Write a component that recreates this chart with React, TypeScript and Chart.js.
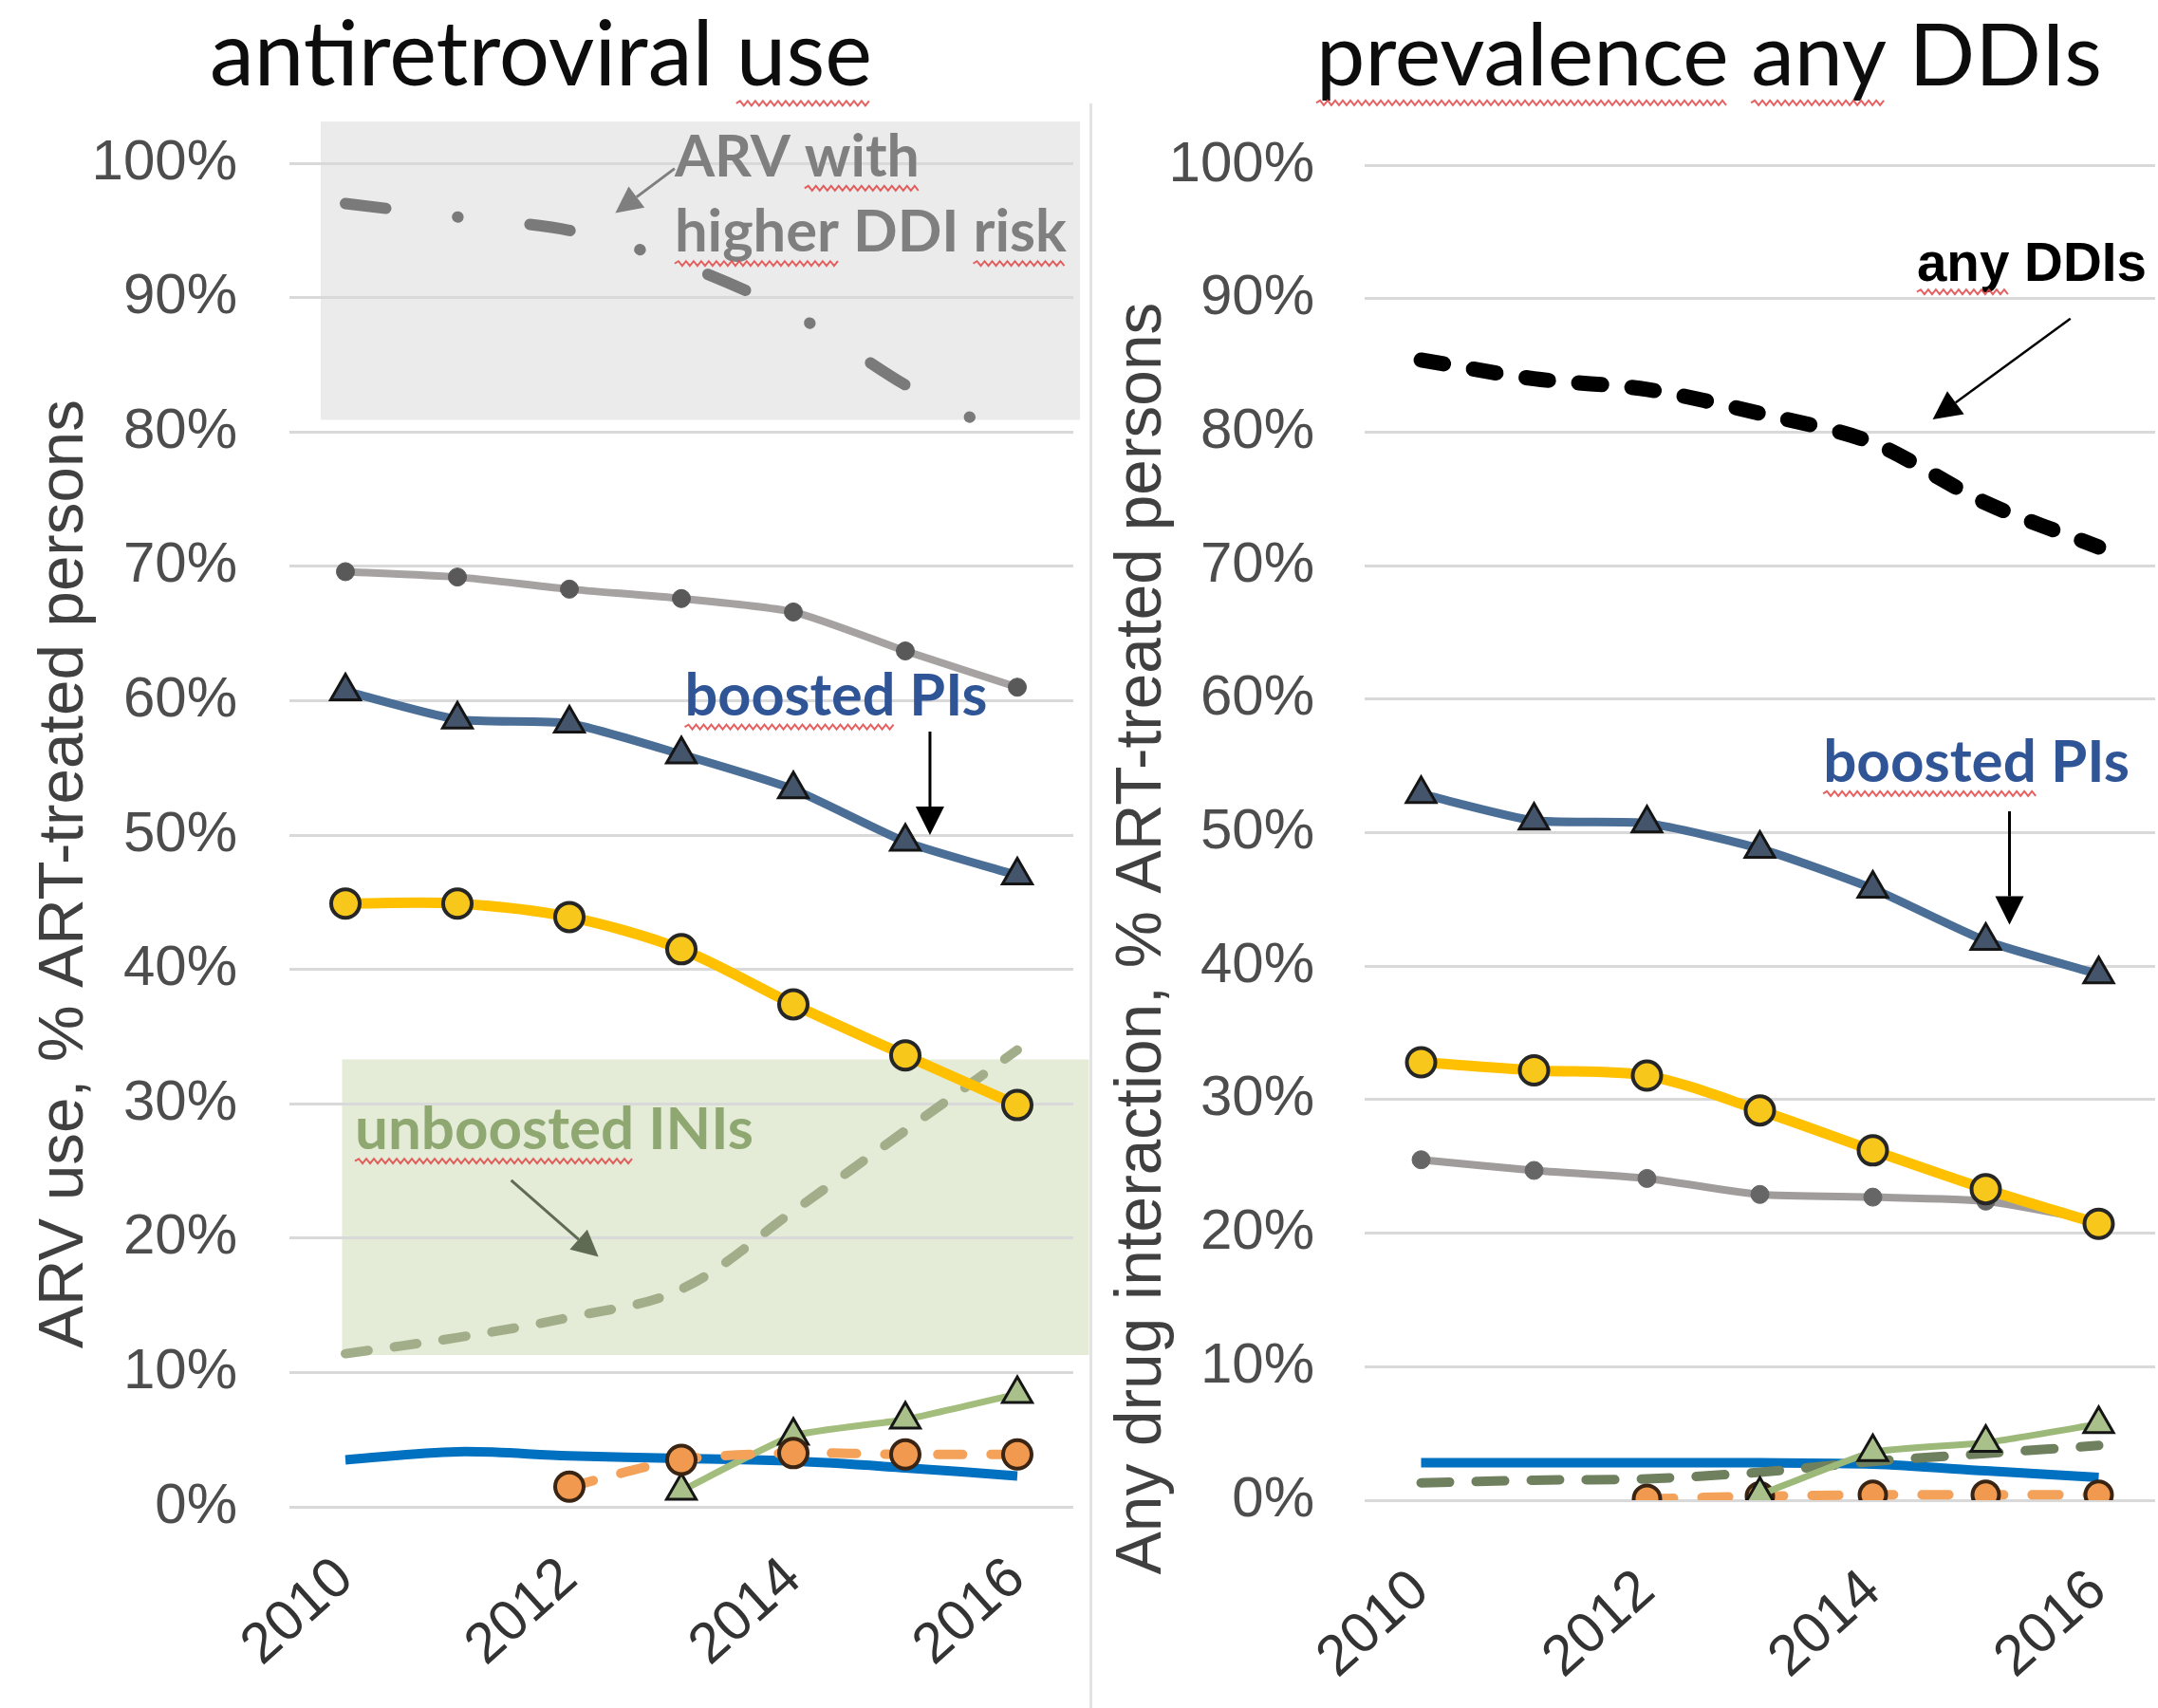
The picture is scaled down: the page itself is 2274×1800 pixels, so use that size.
import React, { useEffect, useRef } from 'react';
import { Chart, registerables } from 'chart.js';

Chart.register(...registerables);

const FONT_ARIAL = "'Liberation Sans', Arial, Helvetica, sans-serif";
const FONT_CALIBRI = "Lato, Carlito, Calibri, 'Open Sans', sans-serif";
const FONT_NARROW = "'Liberation Sans Narrow', 'Arial Narrow', 'Liberation Sans', Arial, sans-serif";

// ---------- shared axis data ----------
const years = ['2010', '2011', '2012', '2013', '2014', '2015', '2016'];
const yMin = 0;
const yMax = 100;
const yStep = 10;

// ---------- left panel: antiretroviral use (% of ART-treated persons) ----------
const leftHigherRiskPos = [0, 1, 2, 3, 4, 5, 5.6]; // position along the year axis (index)
const leftHigherRisk = [97.0, 96.0, 95.0, 92.5, 88.8, 83.5, 81.0];
const leftGray = [69.6, 69.2, 68.3, 67.6, 66.6, 63.7, 61.0];
const leftBoostedPIs = [60.7, 58.6, 58.3, 56.0, 53.4, 49.5, 47.0];
const leftYellow = [44.9, 44.9, 43.9, 41.5, 37.4, 33.6, 29.9];
const leftUnboostedINIs = [11.4, 12.6, 14.1, 16.2, 22.0, 28.0, 34.0];
const leftBlue = [3.5, 4.1, 3.8, 3.6, 3.4, 2.9, 2.3];
const leftOrange = [null, null, 1.5, 3.5, 4.0, 3.9, 3.9];
const leftGreen = [null, null, null, 1.2, 5.3, 6.5, 8.4];

// ---------- right panel: prevalence of any DDIs ----------
const rightAnyDDIs = [85.4, 84.0, 83.2, 81.4, 79.2, 74.7, 71.4];
const rightBoostedPIs = [52.9, 50.9, 50.7, 48.8, 45.8, 41.9, 39.4];
const rightYellow = [32.8, 32.2, 31.8, 29.2, 26.2, 23.3, 20.7];
const rightGray = [25.5, 24.7, 24.1, 22.9, 22.7, 22.4, 20.9];
const rightBlue = [2.8, 2.8, 2.8, 2.8, 2.7, 2.2, 1.7];
const rightDarkGreen = [1.3, 1.5, 1.6, 2.1, 2.9, 3.5, 4.1];
const rightOrange = [null, null, 0.1, 0.3, 0.4, 0.4, 0.4];
const rightGreen = [null, null, null, 0.4, 3.6, 4.3, 5.7];

// ---------- drawing helpers ----------
function drawSquiggle(ctx: CanvasRenderingContext2D, x0: number, x1: number, y: number) {
  ctx.save();
  ctx.strokeStyle = 'rgba(225,70,70,0.85)';
  ctx.lineWidth = 2;
  ctx.beginPath();
  ctx.moveTo(x0, y);
  let up = true;
  for (let x = x0 + 4; x <= x1; x += 4) {
    ctx.lineTo(x, y + (up ? -2.5 : 2.5));
    up = !up;
  }
  ctx.stroke();
  ctx.restore();
}

function drawFitText(
  ctx: CanvasRenderingContext2D,
  text: string,
  x: number,
  baseline: number,
  width: number,
  weight: string,
  family: string,
  color: string,
  align: 'left' | 'center',
  squiggle: string[] = []
) {
  ctx.save();
  ctx.font = `${weight} 100px ${family}`;
  const w100 = ctx.measureText(text).width;
  const size = (100 * width) / w100;
  ctx.font = `${weight} ${size}px ${family}`;
  ctx.fillStyle = color;
  ctx.textAlign = 'left';
  ctx.textBaseline = 'alphabetic';
  const left = align === 'center' ? x - width / 2 : x;
  ctx.fillText(text, left, baseline);
  let from = 0;
  for (const word of squiggle) {
    const i = text.indexOf(word, from);
    if (i < 0) continue;
    const sx = left + ctx.measureText(text.slice(0, i)).width;
    const ex = sx + ctx.measureText(word).width;
    drawSquiggle(ctx, sx, ex, baseline + size * 0.2);
    from = i + word.length;
  }
  ctx.restore();
}

function drawArrow(
  ctx: CanvasRenderingContext2D,
  x0: number, y0: number, x1: number, y1: number,
  color: string, lw: number, headLen: number, headW: number
) {
  const a = Math.atan2(y1 - y0, x1 - x0);
  const bx = x1 - headLen * Math.cos(a);
  const by = y1 - headLen * Math.sin(a);
  ctx.save();
  ctx.strokeStyle = color;
  ctx.lineWidth = lw;
  ctx.beginPath();
  ctx.moveTo(x0, y0);
  ctx.lineTo(bx, by);
  ctx.stroke();
  ctx.fillStyle = color;
  ctx.beginPath();
  ctx.moveTo(x1, y1);
  ctx.lineTo(bx + headW * Math.sin(a), by - headW * Math.cos(a));
  ctx.lineTo(bx - headW * Math.sin(a), by + headW * Math.cos(a));
  ctx.closePath();
  ctx.fill();
  ctx.restore();
}

type BoxAnn = { x0: number; x1: number; y0: number; y1: number; color: string };
type TextAnn = { text: string; x: number; y: number; width: number; color: string; family: string; squiggle?: string[] };
type ArrowAnn = { x0: number; y0: number; x1: number; y1: number; color: string; width: number; head: number };
type Decor = {
  title: { text: string; cx: number; baseline: number; width: number; squiggle: string[] };
  yTitle: { text: string; cx: number; cy: number; width: number };
  boxes: BoxAnn[];
  texts: TextAnn[];
  arrows: ArrowAnn[];
};

function makeDecorPlugin(d: Decor) {
  return {
    id: 'decor',
    beforeDraw(chart: any) {
      const ctx: CanvasRenderingContext2D = chart.ctx;
      const xs = chart.scales.xo;
      const ys = chart.scales.y;
      ctx.save();
      for (const b of d.boxes) {
        const l = xs.getPixelForValue(b.x0);
        const r = xs.getPixelForValue(b.x1);
        const t = ys.getPixelForValue(b.y0);
        const bt = ys.getPixelForValue(b.y1);
        ctx.fillStyle = b.color;
        ctx.fillRect(l, t, r - l, bt - t);
      }
      ctx.restore();
    },
    afterDraw(chart: any) {
      const ctx: CanvasRenderingContext2D = chart.ctx;
      const xs = chart.scales.xo;
      const ys = chart.scales.y;
      for (const t of d.texts) {
        drawFitText(ctx, t.text, xs.getPixelForValue(t.x), ys.getPixelForValue(t.y), t.width, 'bold', t.family, t.color, 'left', t.squiggle || []);
      }
      for (const a of d.arrows) {
        drawArrow(ctx, xs.getPixelForValue(a.x0), ys.getPixelForValue(a.y0), xs.getPixelForValue(a.x1), ys.getPixelForValue(a.y1), a.color, a.width, a.head, a.head * 0.5);
      }
      drawFitText(ctx, d.title.text, d.title.cx, d.title.baseline, d.title.width, 'normal', FONT_CALIBRI, '#0d0d0d', 'center', d.title.squiggle);
      ctx.save();
      ctx.translate(d.yTitle.cx, d.yTitle.cy);
      ctx.rotate(-Math.PI / 2);
      ctx.font = `normal 100px ${FONT_ARIAL}`;
      const w100 = ctx.measureText(d.yTitle.text).width;
      const size = (100 * d.yTitle.width) / w100;
      ctx.font = `normal ${size}px ${FONT_ARIAL}`;
      ctx.fillStyle = '#404040';
      ctx.textAlign = 'center';
      ctx.textBaseline = 'middle';
      ctx.fillText(d.yTitle.text, 0, 0);
      ctx.restore();
    },
  };
}

// ---------- dataset helpers ----------
function lineDs(label: string, data: any[], color: string, width: number, extra: any = {}) {
  return {
    label,
    data,
    borderColor: color,
    backgroundColor: color,
    borderWidth: width,
    pointRadius: 0,
    tension: 0.3,
    fill: false,
    spanGaps: false,
    xAxisID: 'x',
    yAxisID: 'y',
    ...extra,
  };
}

const triMarker = (fill: string) => ({
  pointStyle: 'triangle',
  pointRadius: 18,
  pointBackgroundColor: fill,
  pointBorderColor: '#151515',
  pointBorderWidth: 3,
});
const circMarker = (fill: string, border: string, r: number, bw: number) => ({
  pointStyle: 'circle',
  pointRadius: r,
  pointBackgroundColor: fill,
  pointBorderColor: border,
  pointBorderWidth: bw,
});

type PanelSpec = {
  width: number;
  yAxisWidth: number;
  xAxisHeight: number;
  padTop: number;
  padRight: number;
  xTickPad: number;
  yTickPad: number;
  datasets: any[];
  decor: Decor;
};

function createChart(canvas: HTMLCanvasElement, p: PanelSpec) {
  return new Chart(canvas, {
    type: 'line',
    data: { labels: years, datasets: p.datasets },
    options: {
      responsive: false,
      animation: false,
      devicePixelRatio: 1,
      events: [],
      layout: { autoPadding: false, padding: { top: p.padTop, right: p.padRight, left: 0, bottom: 0 } },
      plugins: {
        legend: { display: false },
        tooltip: { enabled: false },
        title: { display: false },
      },
      scales: {
        x: {
          type: 'category',
          offset: true,
          grid: { display: false, drawTicks: false },
          border: { display: false },
          ticks: {
            autoSkip: false,
            minRotation: 42,
            maxRotation: 42,
            padding: p.xTickPad,
            color: '#333333',
            font: { family: FONT_ARIAL, size: 60 },
            callback: (_v: any, i: number) => (i % 2 === 0 ? years[i] : ''),
          },
          afterFit: (s: any) => {
            s.height = p.xAxisHeight;
            s.paddingLeft = 0;
            s.paddingRight = 0;
          },
        },
        xo: {
          type: 'linear',
          min: -0.5,
          max: 6.5,
          display: false,
          afterFit: (s: any) => {
            s.paddingLeft = 0;
            s.paddingRight = 0;
          },
        },
        y: {
          min: yMin,
          max: yMax,
          grid: { color: '#d9d9d9', lineWidth: 3, drawTicks: false },
          border: { display: false },
          ticks: {
            stepSize: yStep,
            padding: p.yTickPad,
            color: '#4d4d4d',
            font: { family: FONT_ARIAL, size: 60 },
            callback: (v: any) => `${v}%`,
          },
          afterFit: (s: any) => {
            s.width = p.yAxisWidth;
            s.paddingTop = 0;
            s.paddingBottom = 0;
          },
        },
      },
    } as any,
    plugins: [makeDecorPlugin(p.decor)],
  } as any);
}

// ---------- panel specs ----------
const leftSpec: PanelSpec = {
  width: 1150,
  yAxisWidth: 305,
  xAxisHeight: 212,
  padTop: 172,
  padRight: 19,
  xTickPad: 40,
  yTickPad: 55,
  datasets: [
    lineDs('ARV with higher DDI risk', leftHigherRiskPos.map((x, i) => ({ x, y: leftHigherRisk[i] })), '#7a7a7a', 12, {
      xAxisID: 'xo',
      borderDash: [43, 76, 0.5, 76],
      borderCapStyle: 'round',
      tension: 0.3,
    }),
    lineDs('boosted PIs', leftBoostedPIs, '#4a6e96', 9, { tension: 0.2, ...triMarker('#44546a') }),
    lineDs('gray', leftGray, '#a6a2a2', 8, { tension: 0.2, ...circMarker('#595959', '#595959', 9.5, 1) }),
    lineDs('yellow', leftYellow, '#ffc000', 11, { tension: 0.3, ...circMarker('#f7c71c', '#262626', 15, 4) }),
    lineDs('orange', leftOrange, '#f4a15a', 10, {
      borderDash: [26, 30],
      borderCapStyle: 'round',
      ...circMarker('#f19a4f', '#3a2414', 15, 4),
    }),
    lineDs('green', leftGreen, '#a3bd7c', 7, { tension: 0.15, ...triMarker('#a9c08a') }),
    lineDs('unboosted INIs', leftUnboostedINIs, '#a2ae8a', 10, {
      borderDash: [24, 28],
      borderCapStyle: 'round',
      tension: 0.35,
    }),
    lineDs('blue', leftBlue, '#0070c0', 10, { tension: 0.35 }),
  ],
  decor: {
    title: { text: 'antiretroviral use', cx: 570, baseline: 90, width: 698, squiggle: ['use'] },
    yTitle: { text: 'ARV use, % ART-treated persons', cx: 68, cy: 921, width: 1000 },
    boxes: [
      { x0: -0.22, x1: 6.56, y0: 103.1, y1: 80.9, color: '#ebebeb' },
      { x0: -0.03, x1: 6.64, y0: 33.3, y1: 11.3, color: '#e4ebd7' },
    ],
    texts: [
      { text: 'ARV with', x: 2.94, y: 99.0, width: 258, color: '#7f7f7f', family: FONT_CALIBRI, squiggle: ['with'] },
      { text: 'higher DDI risk', x: 2.94, y: 93.4, width: 413, color: '#7f7f7f', family: FONT_CALIBRI, squiggle: ['higher', 'risk'] },
      { text: 'boosted PIs', x: 3.03, y: 58.9, width: 319, color: '#2f5597', family: FONT_CALIBRI, squiggle: ['boosted'] },
      { text: 'unboosted INIs', x: 0.085, y: 26.6, width: 420, color: '#8fa872', family: FONT_CALIBRI, squiggle: ['unboosted'] },
    ],
    arrows: [
      { x0: 2.94, y0: 99.6, x1: 2.41, y1: 96.3, color: '#7f7f7f', width: 3, head: 28 },
      { x0: 5.22, y0: 57.7, x1: 5.22, y1: 50.0, color: '#000000', width: 3, head: 30 },
      { x0: 1.48, y0: 24.3, x1: 2.26, y1: 18.6, color: '#5f6b52', width: 3, head: 28 },
    ],
  },
};

const rightSpec: PanelSpec = {
  width: 1124,
  yAxisWidth: 288,
  xAxisHeight: 219,
  padTop: 174,
  padRight: 3,
  xTickPad: 60,
  yTickPad: 53,
  datasets: [
    lineDs('any DDIs', rightAnyDDIs, '#000000', 16, {
      borderDash: [24, 32],
      borderCapStyle: 'round',
      tension: 0.3,
    }),
    lineDs('boosted PIs', rightBoostedPIs, '#4a6e96', 9, { tension: 0.2, ...triMarker('#44546a') }),
    lineDs('yellow', rightYellow, '#ffc000', 11, { tension: 0.3, ...circMarker('#f7c71c', '#262626', 15, 4) }),
    lineDs('gray', rightGray, '#a09c9c', 8, { tension: 0.2, ...circMarker('#666666', '#666666', 9.5, 1) }),
    lineDs('green', rightGreen, '#9cb97a', 7, { tension: 0.15, ...triMarker('#a9c08a') }),
    lineDs('orange', rightOrange, '#f4a15a', 10, {
      borderDash: [28, 30],
      borderCapStyle: 'round',
      ...circMarker('#f19a4f', '#3a2414', 14, 4),
    }),
    lineDs('dark green', rightDarkGreen, '#6f805e', 10, {
      borderDash: [30, 28],
      borderCapStyle: 'round',
      tension: 0.3,
    }),
    lineDs('blue', rightBlue, '#0070c0', 10, { tension: 0.3 }),
  ],
  decor: {
    title: { text: 'prevalence any DDIs', cx: 651, baseline: 90, width: 828, squiggle: ['prevalence', 'any'] },
    yTitle: { text: 'Any drug interaction, % ART-treated persons', cx: 54, cy: 989, width: 1341 },
    boxes: [],
    texts: [
      { text: 'any DDIs', x: 4.39, y: 91.3, width: 242, color: '#000000', family: FONT_NARROW, squiggle: ['any'] },
      { text: 'boosted PIs', x: 3.56, y: 53.8, width: 323, color: '#2f5597', family: FONT_CALIBRI, squiggle: ['boosted'] },
    ],
    arrows: [
      { x0: 5.75, y0: 88.5, x1: 4.53, y1: 80.95, color: '#000000', width: 2.5, head: 30 },
      { x0: 5.21, y0: 51.6, x1: 5.21, y1: 43.1, color: '#000000', width: 3, head: 30 },
    ],
  },
};

function Panel({ spec, left }: { spec: PanelSpec; left: number }) {
  const ref = useRef<HTMLCanvasElement | null>(null);
  useEffect(() => {
    if (!ref.current) return;
    const chart = createChart(ref.current, spec);
    return () => chart.destroy();
  }, [spec]);
  return (
    <canvas
      ref={ref}
      width={spec.width}
      height={1800}
      style={{ position: 'absolute', left, top: 0, width: spec.width, height: 1800 }}
    />
  );
}

export default function App() {
  return (
    <div style={{ position: 'absolute', left: 0, top: 0, width: 2274, height: 1800, background: '#ffffff', overflow: 'hidden' }}>
      <Panel spec={leftSpec} left={0} />
      <div style={{ position: 'absolute', left: 1148, top: 109, width: 3, height: 1691, background: '#e3e3e3' }} />
      <Panel spec={rightSpec} left={1150} />
    </div>
  );
}
